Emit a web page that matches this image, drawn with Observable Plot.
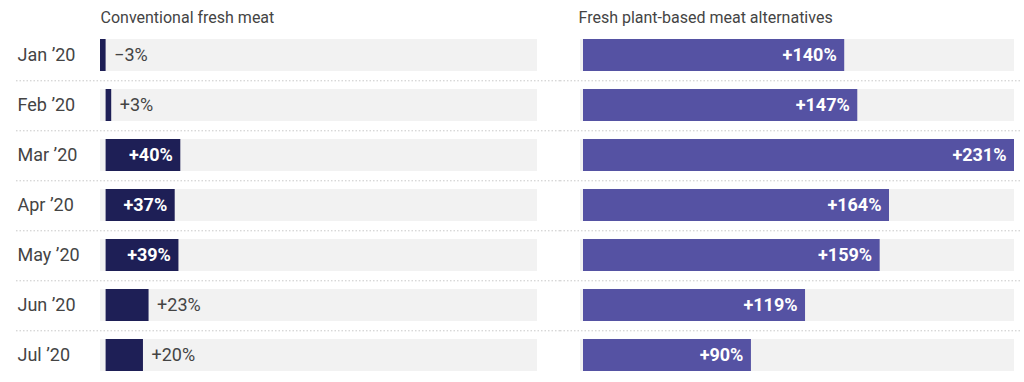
<!DOCTYPE html>
<html>
<head>
<meta charset="utf-8">
<script src="https://cdn.jsdelivr.net/npm/d3@7"></script>
<script src="https://cdn.jsdelivr.net/npm/@observablehq/plot@0.6"></script>
<style>
  html, body { margin: 0; padding: 0; background: #fff; }
  #wrap { display: flex; flex-direction: row; width: 1024px; height: 382px; overflow: hidden; font-family: Roboto, sans-serif; }
  #wrap svg { overflow: visible; }
</style>
</head>
<body>
<div id="wrap"></div>
<script>
const months = ["Jan ’20", "Feb ’20", "Mar ’20", "Apr ’20", "May ’20", "Jun ’20", "Jul ’20"];
const conventional = [-3, 3, 40, 37, 39, 23, 20];
const plantBased = [140, 147, 231, 164, 159, 119, 90];
const titles = ["Conventional fresh meat", "Fresh plant-based meat alternatives"];
const colors = ["#1e1f56", "#5552a3"];

const fmt = v => (v < 0 ? "−" + Math.abs(v) : "+" + v) + "%";
const H = 382, marginTopPx = 28, step = (H - marginTopPx) / months.length;

function makePanel(values, title, color, opts) {
  const data = months.map((m, i) => ({month: m, value: values[i]}));
  const dom = opts.domain;
  const inside = d => d.value > 30;
  const marks = [
    Plot.barX(data, {y: "month", x1: () => dom[0], x2: () => dom[1], fill: "#f2f2f2", insetLeft: opts.bandInset}),
    Plot.ruleY(months.slice(0, -1), {y: d => d, dy: step / 2, stroke: "#c8c8c8", strokeDasharray: "1.5,2", strokeWidth: 1, insetLeft: opts.ruleL, insetRight: opts.ruleR}),
    Plot.barX(data, {y: "month", x: "value", fill: color}),
    Plot.text(data.filter(inside), {y: "month", x: "value", text: d => fmt(d.value), textAnchor: "end", dx: -8, fill: "white", fontWeight: "bold", fontSize: 18}),
    Plot.text(data.filter(d => !inside(d)), {y: "month", x: d => Math.max(0, d.value), text: d => fmt(d.value), textAnchor: "start", dx: 8, fill: "#444", fontSize: 18}),
    Plot.text([title], {frameAnchor: "top-left", textAnchor: "start", lineAnchor: "middle", dy: -11, dx: opts.titleDx, fill: "#444", fontSize: 16})
  ];
  if (opts.showMonths) {
    marks.push(Plot.text(months, {y: d => d, frameAnchor: "left", textAnchor: "start", dx: -83, fill: "#444", fontSize: 18}));
  }
  return Plot.plot({
    width: opts.width,
    height: H,
    marginLeft: opts.marginLeft,
    marginRight: opts.marginRight,
    marginTop: marginTopPx,
    marginBottom: 0,
    style: {fontFamily: "Roboto, sans-serif", fontSize: "16px", background: "transparent"},
    x: {domain: dom, axis: null},
    y: {domain: months, axis: null, paddingInner: 0.36, paddingOuter: 0.18},
    marks
  });
}

const wrap = document.getElementById("wrap");
wrap.append(makePanel(conventional, titles[0], colors[0], {
  width: 560, marginLeft: 100, marginRight: 23, domain: [-3, 231],
  bandInset: 0, ruleL: -84, ruleR: -23, titleDx: 0, showMonths: true
}));
wrap.append(makePanel(plantBased, titles[1], colors[1], {
  width: 464, marginLeft: 23, marginRight: 10, domain: [0, 231],
  bandInset: -3, ruleL: -23, ruleR: -6, titleDx: -5, showMonths: false
}));
</script>
</body>
</html>
